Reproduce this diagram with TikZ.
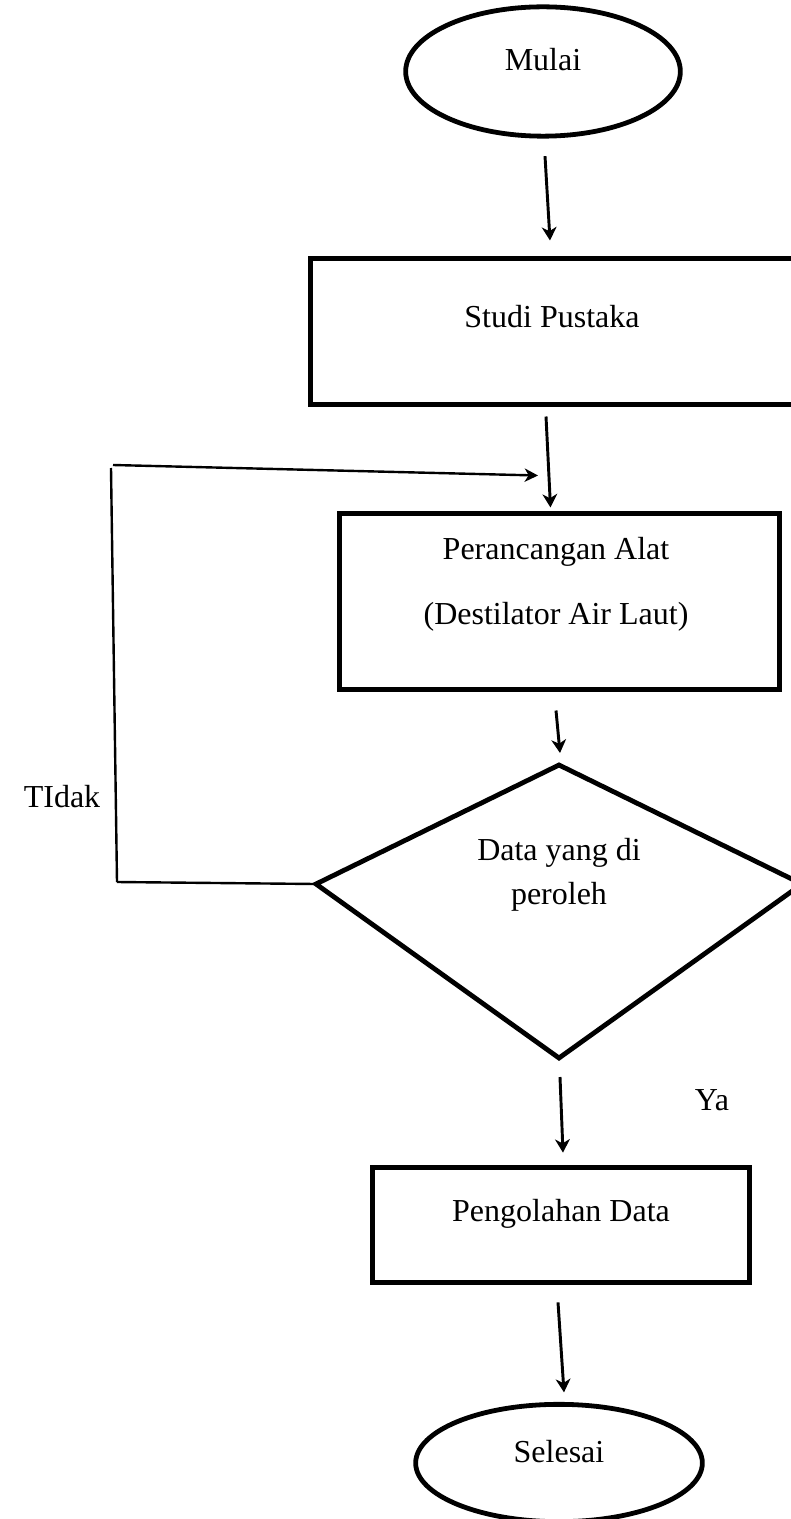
\documentclass[tikz,border=0pt]{standalone}
\usepackage{fontspec}
\setmainfont{Liberation Serif}
\usetikzlibrary{shapes.geometric,arrows.meta,calc}
\begin{document}
\begin{tikzpicture}[x=0.75pt,y=-0.75pt,
  every node/.style={font=\fontsize{24}{28}\selectfont, inner sep=0pt, outer sep=0pt},
  terminal/.style={draw, ellipse, line width=3.6pt},
  process/.style={draw, rectangle, line width=3.6pt},
  decision/.style={draw, line width=3.6pt, line join=miter},
  flow/.style={line width=2.2pt, -{Stealth[length=10pt, width=11pt, inset=3pt]}},
  loopline/.style={line width=1.8pt},
  looparrow/.style={line width=1.8pt, -{Stealth[length=10pt, width=10pt, inset=3pt]}}]
  % canvas
  \useasboundingbox (0,0) rectangle (790,1519);

  % start
  \node[terminal, minimum width=206pt, minimum height=97pt] (mulai) at (543,71.5) {};
  \node (mulaitxt) at (543,60) {Mulai};

  % literature study
  \node[process, minimum width=365pt, minimum height=109.5pt] (studi) at (554,331.5) {};
  \node (studitxt) at (552,317) {Studi Pustaka};

  % design of the distiller
  \node[process, minimum width=330pt, minimum height=132pt] (rancang) at (559.5,601.5) {};
  \node[align=center, font=\fontsize{24}{49}\selectfont] (rancangtxt) at (556,584.5)
    {Perancangan Alat\\(Destilator Air Laut)};

  % decision
  \coordinate (dtop) at (559,765);
  \coordinate (dleft) at (316,884);
  \coordinate (dright) at (802,884);
  \coordinate (dbot) at (559,1058);
  \draw[decision] (dtop) -- (dright) -- (dbot) -- (dleft) -- cycle;
  \node[align=center, font=\fontsize{24}{33}\selectfont] (datatxt) at (559,875)
    {Data yang di\\peroleh};

  % data processing
  \node[process, minimum width=283pt, minimum height=86pt] (olah) at (561,1225) {};
  \node (olahtxt) at (561,1214) {Pengolahan Data};

  % end
  \node[terminal, minimum width=215pt, minimum height=88pt] (selesai) at (559,1463) {};
  \node (selesaitxt) at (559,1452) {Selesai};

  % branch labels
  \node (tidak) at (62,797) {TIdak};
  \node (ya) at (712,1100) {Ya};

  % main flow
  \draw[flow] ($(mulai.south)+(2,20)$) -- ($(studi.north)+(-4,-18)$);
  \draw[flow] ($(studi.south)+(-8,12)$) -- ($(rancang.north)+(-9,-6)$);
  \draw[flow] ($(rancang.south)+(-3.5,21)$) -- ($(dtop)+(1,-12)$);
  \draw[flow] ($(dbot)+(1,19)$) -- ($(olah.north)+(2,-15)$);
  \draw[flow] ($(olah.south)+(-3,20)$) -- ($(selesai.north)+(5,-12)$);

  % loop back when the data is not yet obtained
  \coordinate (lt) at (113,465);
  \coordinate (lv) at (111,468);
  \coordinate (lb) at (117,882);
  \draw[looparrow] (lt) -- ($(rancang.north)+(-21.5,-38)$);
  \draw[loopline] (lv) -- (lb);
  \draw[loopline] (lb) -- (dleft);
\end{tikzpicture}
\end{document}
